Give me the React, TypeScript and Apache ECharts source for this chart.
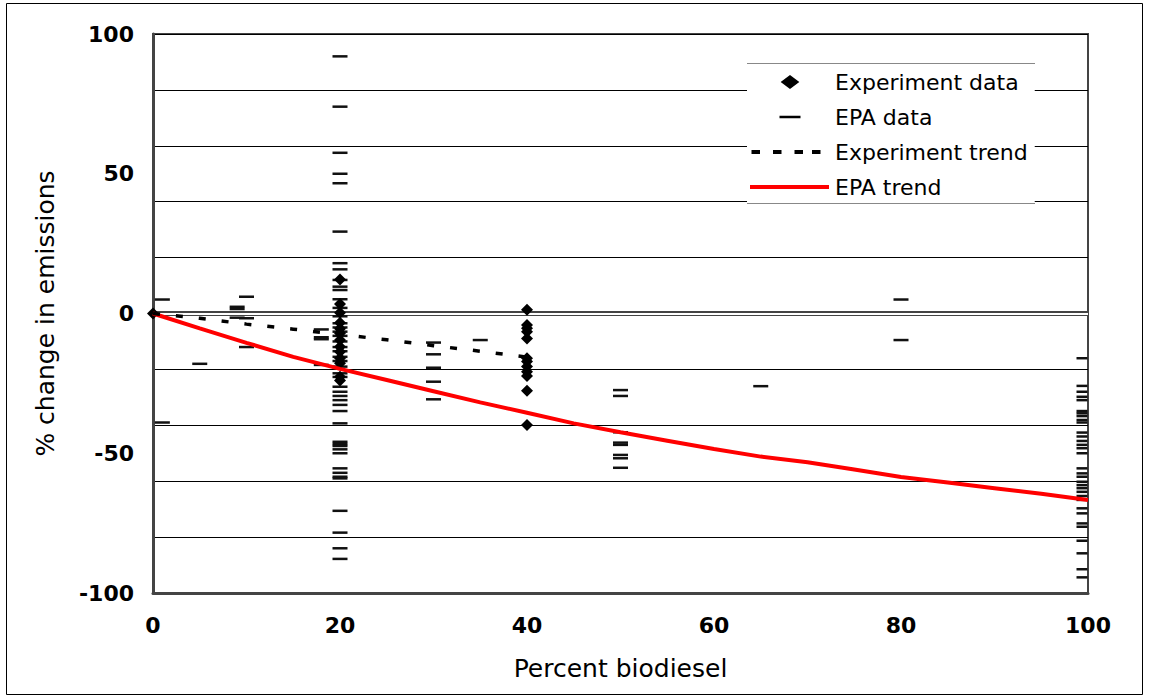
import React, { useEffect, useRef } from "react";
import * as echarts from "echarts";

// ---- data ----
const xTickInterval = 20;
const yGridInterval = 20;
const yLabelInterval = 50;

// Experiment data: [percent biodiesel, % change]
const experimentData: [number, number][] = [
  [0, 0],
  [20, 12.2], [20, 3.4], [20, 0.3], [20, -3.3], [20, -5.5], [20, -7.1], [20, -9.5],
  [20, -11.9], [20, -13.7], [20, -16], [20, -17.8], [20, -22.6], [20, -24],
  [40, 1.3], [40, -4.1], [40, -5.3], [40, -6.5], [40, -8.9], [40, -16], [40, -17.2],
  [40, -19], [40, -20.8], [40, -22.4], [40, -27.6], [40, -39.9],
];

// EPA data (except the B100 column)
const epaData: [number, number][] = [
  [1, 5], [1, -39],
  [5, -18],
  [9, 2.4], [9, 1.6], [9, -1.5],
  [10, 6], [10, -1.7], [10, -12],
  [18, -5.7], [18, -8.5], [18, -9.2], [18, -18.4],
  [20, 92], [20, 74], [20, 57.5], [20, 50], [20, 46.6], [20, 29.3], [20, 18], [20, 15.8],
  [20, 12], [20, 9.6], [20, 8.4], [20, 5.1], [20, 2], [20, -1], [20, -3.5], [20, -5],
  [20, -6.5], [20, -8], [20, -10], [20, -12], [20, -13.5], [20, -15.5], [20, -17],
  [20, -19], [20, -21.4], [20, -22.7], [20, -26.2], [20, -28], [20, -29.5], [20, -31],
  [20, -32.7], [20, -34.9], [20, -39.3], [20, -45.9], [20, -46.7], [20, -47.4],
  [20, -48.6], [20, -50], [20, -55.4], [20, -57], [20, -58.4], [20, -59], [20, -70.6],
  [20, -78.4], [20, -84], [20, -87.8],
  [30, -10.4], [30, -14.6], [30, -19.4], [30, -24.4], [30, -30.7],
  [35, -9.5],
  [50, -27.4], [50, -29.5], [50, -42.5], [50, -46.2], [50, -47], [50, -50.6], [50, -51.8], [50, -55.2],
  [65, -26],
  [80, 5], [80, -9.5],
];

// EPA data at 100% biodiesel
const epaB100X = 100;
const epaB100: number[] = [
  -16, -25.9, -28, -29.8, -31, -34.9, -35.7, -36.7, -38.1, -39, -42.6, -44, -45.6,
  -47, -48.2, -50, -55.4, -57.2, -58.4, -60.2, -61.4, -62.5, -63.8, -65.3, -66.7,
  -69.7, -71.5, -75.1, -76.3, -81.3, -85.8, -91.5, -94.4,
];

const experimentTrendX = [0, 5, 10, 15, 20, 25, 30, 35, 40];
const experimentTrendY = [0, -1.7, -3.8, -5.6, -7.5, -9.4, -11.5, -13.5, -15.6];

const epaTrendX = [0, 5, 10, 15, 20, 25, 30, 35, 40, 45, 50, 55, 60, 65, 70, 75, 80, 85, 90, 95, 100];
const epaTrendY = [0, -5.3, -10.5, -15.5, -19.8, -23.8, -27.8, -31.8, -35.5, -39.3, -42.5,
  -45.5, -48.5, -51.2, -53.2, -55.8, -58.5, -60.5, -62.5, -64.5, -66.7];

const FONT = "DejaVu Sans";

// legend icons (80 x 14 boxes, tiny corner marks keep the box size)
const corners = "M0,0L0.01,0L0,0.01Z M80,14L79.99,14L80,13.99Z ";
const iconDiamond = "path://" + corners + "M40,-0.5L50,7L40,14.5L30,7Z";
const iconDash = "path://" + corners + "M29.5,5.8H50.5V8.2H29.5Z";
const iconDashed = "path://" + corners + "M1.5,5H10V9H1.5Z M23,5H31.5V9H23Z M44.5,5H53V9H44.5Z M62,5H70.5V9H62Z";
const iconRed = "path://" + corners + "M0,5H79V9H0Z";

export default function App() {
  const ref = useRef<HTMLDivElement>(null);

  useEffect(() => {
    if (!ref.current) return;
    const chart = echarts.init(ref.current, null, { renderer: "svg" });
    const zip = (xs: number[], ys: number[]) => xs.map((x, i) => [x, ys[i]]);

    chart.setOption({
      animation: false,
      backgroundColor: "#fff",
      textStyle: { fontFamily: FONT, color: "#000" },
      grid: {
        left: 153, right: 61, top: 34, bottom: 105,
        show: true, borderColor: "#444", borderWidth: 2, containLabel: false,
      },
      xAxis: {
        type: "value", min: 0, max: 100, interval: xTickInterval,
        axisLine: { show: true, onZero: false, lineStyle: { color: "#444", width: 3 } },
        axisTick: { show: false },
        splitLine: { show: false },
        axisLabel: { fontSize: 22, fontWeight: "bold", color: "#000", margin: 21, fontFamily: FONT },
        name: "Percent biodiesel", nameLocation: "middle", nameGap: 63,
        nameTextStyle: { fontSize: 25, color: "#000", fontFamily: FONT },
      },
      yAxis: [
        {
          type: "value", min: -100, max: 100, interval: yGridInterval,
          axisLine: { show: true, onZero: false, lineStyle: { color: "#444", width: 3 } },
          axisTick: { show: false },
          axisLabel: { show: false },
          splitLine: { show: true, lineStyle: { color: "#000", width: 1 } },
          name: "% change in emissions", nameLocation: "middle", nameGap: 95,
          nameTextStyle: { fontSize: 25, color: "#000", fontFamily: FONT },
        },
        {
          type: "value", min: -100, max: 100, interval: yLabelInterval, position: "left",
          axisLine: { show: false }, axisTick: { show: false }, splitLine: { show: false },
          axisLabel: { fontSize: 22, fontWeight: "bold", color: "#000", margin: 19, fontFamily: FONT },
        },
      ],
      legend: {
        orient: "vertical", left: 747, top: 63, padding: [8, 7, 5, 3],
        backgroundColor: "#fff", borderWidth: 0,
        itemWidth: 80, itemHeight: 14, itemGap: 13,
        selectedMode: false,
        textStyle: { fontSize: 22, color: "#000", fontFamily: FONT },
        data: [
          { name: "Experiment data", icon: iconDiamond, itemStyle: { color: "#000", borderWidth: 0, opacity: 1 } },
          { name: "EPA data", icon: iconDash, itemStyle: { color: "#000", borderWidth: 0, opacity: 1 } },
          { name: "Experiment trend", icon: iconDashed, itemStyle: { color: "#000", borderWidth: 0, opacity: 1 } },
          { name: "EPA trend", icon: iconRed, itemStyle: { color: "#ff0000", borderWidth: 0, opacity: 1 } },
        ],
      },
      graphic: [
        { type: "rect", z: 100, silent: true, shape: { x: 6.5, y: 3.5, width: 1136, height: 691 },
          style: { fill: "none", stroke: "#000", lineWidth: 1 } },
        { type: "line", z: 100, silent: true, shape: { x1: 747, y1: 63.5, x2: 1035, y2: 63.5 },
          style: { stroke: "#888", lineWidth: 1 } },
        { type: "line", z: 100, silent: true, shape: { x1: 747, y1: 203.5, x2: 1035, y2: 203.5 },
          style: { stroke: "#888", lineWidth: 1 } },
      ],
      series: [
        {
          name: "EPA data", type: "scatter", data: epaData,
          symbol: "rect", symbolSize: [15, 2.5], itemStyle: { color: "#111", opacity: 1 },
          markLine: {
            silent: true, symbol: "none", z: 1, label: { show: false },
            data: [
              { yAxis: 0, lineStyle: { color: "#444", width: 5, type: "solid" } },
              { yAxis: 0, lineStyle: { color: "#fff", width: 2, type: "solid" } },
            ],
          },
        },
        {
          name: "EPA data", type: "scatter", data: epaB100.map((y) => [epaB100X, y]),
          symbol: "rect", symbolSize: [11, 2.5], symbolOffset: [-6, 0], itemStyle: { color: "#111", opacity: 1 },
        },
        {
          name: "EPA trend", type: "line", data: zip(epaTrendX, epaTrendY),
          symbol: "none", showSymbol: false,
          lineStyle: { color: "#ff0000", width: 4 }, itemStyle: { color: "#ff0000" },
        },
        {
          name: "Experiment trend", type: "line", data: zip(experimentTrendX, experimentTrendY),
          symbol: "none", showSymbol: false,
          lineStyle: { color: "#000", width: 3.5, type: [7, 16] }, itemStyle: { color: "#000" },
        },
        {
          name: "Experiment data", type: "scatter", data: experimentData,
          symbol: "diamond", symbolSize: 12, itemStyle: { color: "#000", opacity: 1 },
        },
      ],
    });

    return () => chart.dispose();
  }, []);

  return (
    <div
      ref={ref}
      style={{ position: "absolute", left: 0, top: 0, width: 1149, height: 698 }}
    />
  );
}
